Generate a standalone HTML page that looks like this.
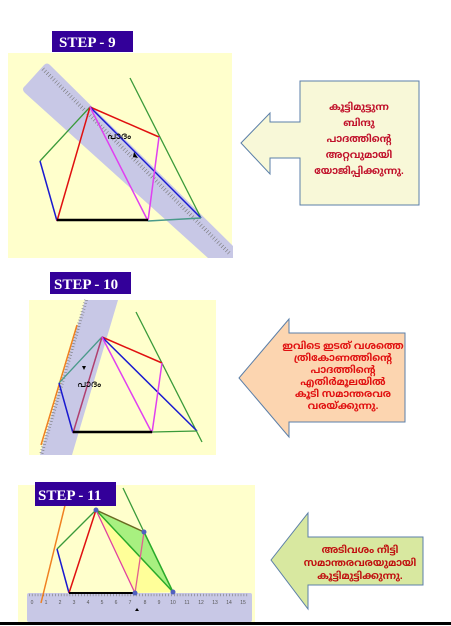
<!DOCTYPE html>
<html><head><meta charset="utf-8"><style>
html,body{margin:0;padding:0;background:#fff;width:451px;height:626px;overflow:hidden}
svg{display:block}
.lbl{font-family:"Liberation Serif",serif;font-weight:bold;font-size:15px;fill:#fff}
.ml{font-family:"Liberation Sans","Noto Sans Malayalam",sans-serif;font-weight:bold;font-size:10px;text-anchor:middle}
.tk{font-family:"Liberation Sans",sans-serif;font-size:5px;fill:#555;text-anchor:middle}
</style></head><body>
<svg width="451" height="626" viewBox="0 0 451 626" xmlns="http://www.w3.org/2000/svg">
<!-- STEP 9 -->
<g>
<rect x="8" y="53" width="224" height="205" fill="#ffffcc"/>
<path d="M44,65 Q47,62 50,65 L233,246 L233,258 L208,258 L25,93 Q21,89 25,86 Z" fill="#c8c8e6"/>
<line x1="45" y1="67" x2="231" y2="251" stroke="#777" stroke-width="4" stroke-dasharray="0.6 2.4" transform="translate(-2,2)"/>
<line x1="130" y1="78" x2="201" y2="218" stroke="#3a9a3a" stroke-width="1.3"/>
<line x1="40" y1="161" x2="90" y2="107" stroke="#3a9a3a" stroke-width="1.3"/>
<line x1="40" y1="161" x2="57" y2="221" stroke="#1a1ad0" stroke-width="1.5"/>
<line x1="57" y1="221" x2="90" y2="107" stroke="#e01010" stroke-width="1.5"/>
<line x1="90" y1="107" x2="159" y2="137" stroke="#e01010" stroke-width="1.5"/>
<line x1="90" y1="107" x2="201" y2="218" stroke="#1a1ad0" stroke-width="1.5"/>
<line x1="90" y1="107" x2="148" y2="221" stroke="#e040f0" stroke-width="1.5"/>
<line x1="159" y1="137" x2="148" y2="221" stroke="#e040f0" stroke-width="1.5"/>
<line x1="148" y1="221" x2="201" y2="218" stroke="#4a9a8a" stroke-width="1.5"/>
<line x1="57" y1="220" x2="148" y2="220" stroke="#000" stroke-width="2.5"/>
<text x="107" y="139" font-family="Liberation Sans,sans-serif" font-size="10">പാദം</text>
<polygon points="134,152 138,158 133,157" fill="#000"/>
<rect x="52" y="31" width="81" height="21" fill="#330099"/>
<text x="59" y="47" class="lbl">STEP - 9</text>
</g>
<g>
<polygon points="241,143 270,113 270,122 300,122 300,81 419,81 419,205 300,205 300,158 270,158 270,174" fill="#f8f8d8" stroke="#5b7fa8" stroke-width="1"/>
<text class="ml" fill="#c0102a"><tspan x="359" y="110">കൂട്ടിമുട്ടുന്ന</tspan><tspan x="359" y="126">ബിന്ദു</tspan><tspan x="359" y="142">പാദത്തിന്റെ</tspan><tspan x="359" y="158">അറ്റവുമായി</tspan><tspan x="359" y="174">യോജിപ്പിക്കുന്നു.</tspan></text>
</g>
<!-- STEP 10 -->
<g>
<rect x="29" y="300" width="187" height="155" fill="#ffffcc"/>
<polygon points="85,300 118,300 72,455 40,455" fill="#c8c8e6"/>
<line x1="86" y1="300" x2="41" y2="455" stroke="#777" stroke-width="4" stroke-dasharray="0.6 2.4"/>
<line x1="136" y1="312" x2="202" y2="442" stroke="#3a9a3a" stroke-width="1.3"/>
<line x1="77" y1="325" x2="41" y2="445" stroke="#f08020" stroke-width="1.5"/>
<line x1="59" y1="383" x2="102" y2="337" stroke="#4a9a8a" stroke-width="1.3"/>
<line x1="59" y1="383" x2="73" y2="433" stroke="#1a1ad0" stroke-width="1.5"/>
<line x1="73" y1="433" x2="102" y2="337" stroke="#b04070" stroke-width="1.5"/>
<line x1="102" y1="337" x2="162" y2="363" stroke="#e01010" stroke-width="1.5"/>
<line x1="102" y1="337" x2="197" y2="431" stroke="#1a1ad0" stroke-width="1.5"/>
<line x1="102" y1="337" x2="152" y2="433" stroke="#e040f0" stroke-width="1.5"/>
<line x1="162" y1="363" x2="152" y2="433" stroke="#e040f0" stroke-width="1.5"/>
<line x1="152" y1="432" x2="197" y2="431" stroke="#3a9a3a" stroke-width="1.3"/>
<line x1="73" y1="432" x2="152" y2="432" stroke="#000" stroke-width="2.5"/>
<text x="77" y="387" font-family="Liberation Sans,sans-serif" font-size="10">പാദം</text>
<polygon points="82,366 86,366 84,370" fill="#000"/>
<rect x="50" y="272" width="81" height="22" fill="#330099"/>
<text x="54" y="289" class="lbl">STEP - 10</text>
</g>
<g>
<polygon points="239,378 289,319 289,333 405,333 405,422 289,422 289,437" fill="#fcd5b0" stroke="#5b7fa8" stroke-width="1"/>
<text class="ml" fill="#e01010" font-size="8.5"><tspan x="343" y="349">ഇവിടെ ഇടത് വശത്തെ</tspan><tspan x="343" y="361">ത്രികോണത്തിന്റെ</tspan><tspan x="343" y="373">പാദത്തിന്റെ</tspan><tspan x="343" y="385">എതിർമൂലയിൽ</tspan><tspan x="343" y="397">കൂടി സമാന്തരവര</tspan><tspan x="343" y="409">വരയ്ക്കുന്നു.</tspan></text>
</g>
<!-- STEP 11 -->
<g>
<rect x="18" y="485" width="237" height="138" fill="#ffffcc"/>
<polygon points="96,510 135,593 173,592" fill="#ffff99"/>
<polygon points="96,510 144,532 173,592" fill="#a8f080"/>
<rect x="27" y="593" width="225" height="29" rx="2" fill="#c8c8e6"/>
<line x1="29" y1="595" x2="248" y2="595" stroke="#777" stroke-width="2.5" stroke-dasharray="0.6 2.3"/>
<g>
<text class="tk" x="32" y="604">0</text><text class="tk" x="46" y="604">1</text><text class="tk" x="60" y="604">2</text><text class="tk" x="74" y="604">3</text><text class="tk" x="88" y="604">4</text><text class="tk" x="102" y="604">5</text><text class="tk" x="116" y="604">6</text><text class="tk" x="130" y="604">7</text><text class="tk" x="145" y="604">8</text><text class="tk" x="159" y="604">9</text><text class="tk" x="173" y="604">10</text><text class="tk" x="187" y="604">11</text><text class="tk" x="201" y="604">12</text><text class="tk" x="215" y="604">13</text><text class="tk" x="229" y="604">14</text><text class="tk" x="243" y="604">15</text>
</g>
<polygon points="137,608 139,611 135,611" fill="#000"/>
<line x1="123" y1="488" x2="144" y2="532" stroke="#3a9a3a" stroke-width="1.3"/>
<line x1="70" y1="485" x2="41" y2="603" stroke="#f08020" stroke-width="1.5"/>
<line x1="57" y1="549" x2="96" y2="510" stroke="#3a9a3a" stroke-width="1.3"/>
<line x1="57" y1="549" x2="69" y2="593" stroke="#1a1ad0" stroke-width="1.5"/>
<line x1="69" y1="593" x2="96" y2="510" stroke="#e01010" stroke-width="1.5"/>
<line x1="96" y1="510" x2="144" y2="532" stroke="#6a6a20" stroke-width="1.5"/>
<line x1="96" y1="510" x2="173" y2="592" stroke="#2aaa2a" stroke-width="1.5"/>
<line x1="96" y1="510" x2="135" y2="593" stroke="#e040a0" stroke-width="1.3"/>
<line x1="144" y1="532" x2="135" y2="593" stroke="#e06090" stroke-width="1.3"/>
<line x1="144" y1="532" x2="173" y2="592" stroke="#2aaa2a" stroke-width="1.5"/>
<line x1="69" y1="593" x2="135" y2="593" stroke="#000" stroke-width="2"/>
<circle cx="96" cy="510" r="2.5" fill="#5060c0"/><circle cx="144" cy="532" r="2.5" fill="#5060c0"/><circle cx="135" cy="593" r="2.5" fill="#5060c0"/><circle cx="173" cy="592" r="2.5" fill="#5060c0"/>
<rect x="35" y="482" width="81" height="24" fill="#330099"/>
<text x="38" y="500" class="lbl">STEP - 11</text>
</g>
<g>
<polygon points="271,560 308,513 308,537 423,537 423,585 308,585 308,609" fill="#d8e8a0" stroke="#5b7fa8" stroke-width="1"/>
<text class="ml" fill="#c01010" font-size="8.5"><tspan x="360" y="553">അടിവശം നീട്ടി</tspan><tspan x="360" y="566">സമാന്തരവരയുമായി</tspan><tspan x="360" y="579">കൂട്ടിമുട്ടിക്കുന്നു.</tspan></text>
</g>
<rect x="0" y="622" width="451" height="3" fill="#000"/>
</svg>
</body></html>
